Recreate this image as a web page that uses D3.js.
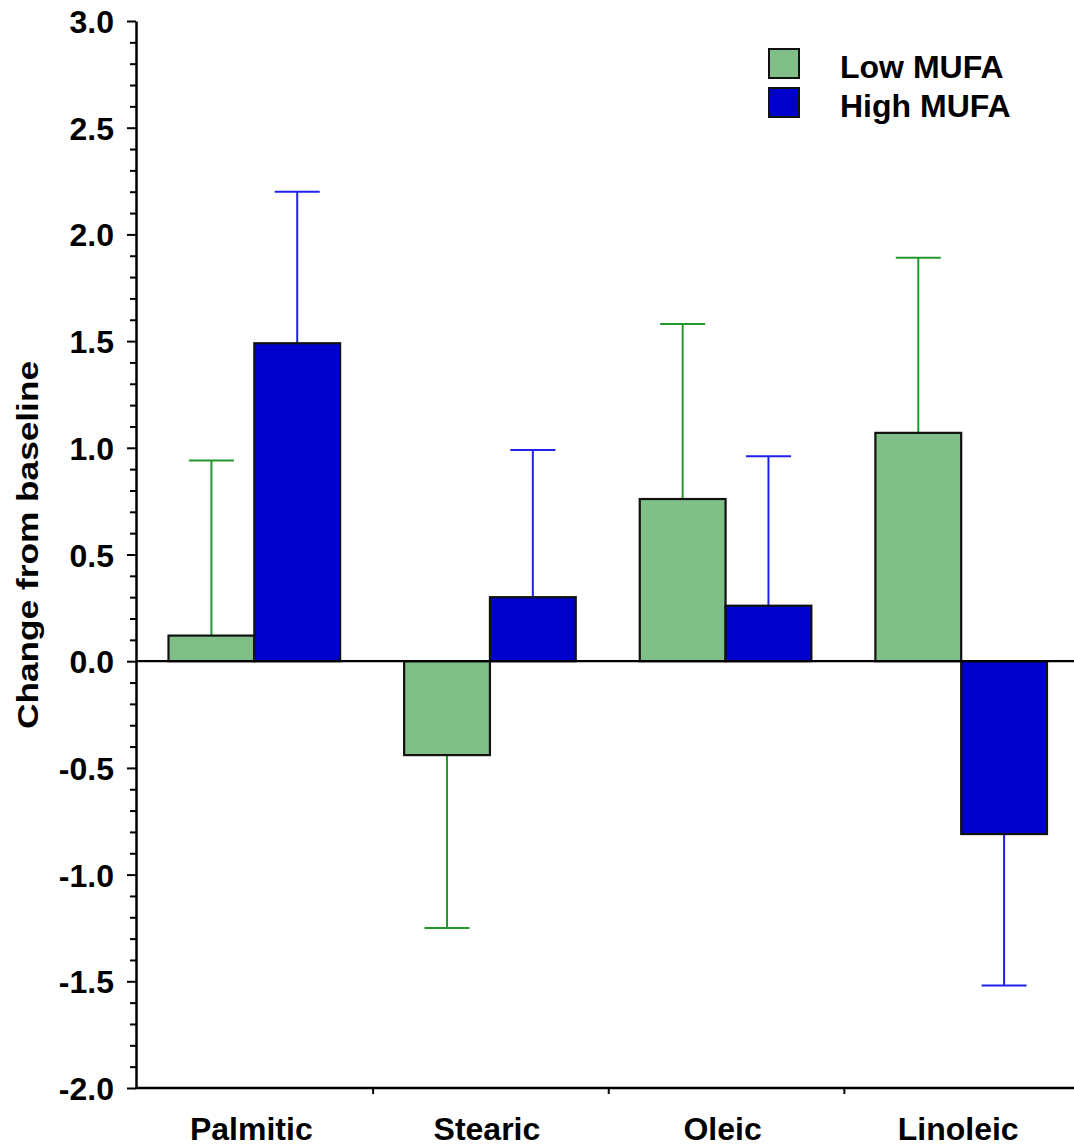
<!DOCTYPE html>
<html>
<head>
<meta charset="utf-8">
<script src="https://cdn.jsdelivr.net/npm/d3@7"></script>
<style>
  html, body { margin: 0; padding: 0; background: #fff; }
  svg { display: block; }
  text { font-family: "Liberation Sans", Arial, Helvetica, sans-serif; font-weight: bold; fill: #000; }
</style>
</head>
<body>
<svg id="chart" width="1074" height="1148"></svg>
<script>
// Fatty acid change from baseline by diet group
const categories = ["Palmitic", "Stearic", "Oleic", "Linoleic"];
const seriesNames = ["Low MUFA", "High MUFA"];
const lowMeans  = [0.12, -0.44, 0.76, 1.07];
const lowErrEnd = [0.94, -1.25, 1.58, 1.89];
const highMeans  = [1.49, 0.30, 0.26, -0.81];
const highErrEnd = [2.20, 0.99, 0.96, -1.52];
const yTicks = [3.0, 2.5, 2.0, 1.5, 1.0, 0.5, 0.0, -0.5, -1.0, -1.5, -2.0];

const fills = ["#80c088", "#0000cc"];
const errColors = ["#20982c", "#2020f0"];

const svg = d3.select("#chart");
const W = 1074;
const plotLeft = 136, plotTop = 21, plotBottom = 1088, plotRight = 1080;

// plain hyphen for negative numbers
const fmt = d3.formatLocale({ decimal: ".", thousands: ",", grouping: [3], currency: ["", ""], minus: "-" }).format(".1f");

const y = d3.scaleLinear().domain([-2, 3]).range([plotBottom, plotTop]);
const x0 = d3.scaleBand().domain(categories).range([plotLeft + 1.5, plotRight]).paddingInner(0).paddingOuter(0);
const x1 = d3.scaleBand().domain(seriesNames).range([32, x0.bandwidth() - 32]).padding(0);

const rows = categories.map((c, i) => ({
  cat: c,
  vals: [
    { s: seriesNames[0], v: lowMeans[i], e: lowErrEnd[i], k: 0 },
    { s: seriesNames[1], v: highMeans[i], e: highErrEnd[i], k: 1 }
  ]
}));

// Error bars (drawn under bars so they start at the bar edge)
const groups = svg.selectAll("g.cat").data(rows).join("g")
  .attr("class", "cat")
  .attr("transform", d => `translate(${x0(d.cat) - 1},0)`);

groups.selectAll("g.err").data(d => d.vals).join("g").attr("class", "err")
  .each(function(d) {
    const g = d3.select(this);
    const cx = x1(d.s) + x1.bandwidth() / 2;
    g.append("line").attr("x1", cx).attr("x2", cx)
      .attr("y1", y(d.v)).attr("y2", y(d.e))
      .attr("stroke", errColors[d.k]).attr("stroke-width", 2);
    g.append("line").attr("x1", cx - 22.5).attr("x2", cx + 22.5)
      .attr("y1", y(d.e)).attr("y2", y(d.e))
      .attr("stroke", errColors[d.k]).attr("stroke-width", 2);
  });

groups.selectAll("rect").data(d => d.vals).join("rect")
  .attr("x", d => x1(d.s))
  .attr("width", x1.bandwidth())
  .attr("y", d => y(Math.max(0, d.v)))
  .attr("height", d => Math.abs(y(d.v) - y(0)))
  .attr("fill", d => fills[d.k])
  .attr("stroke", "#111")
  .attr("stroke-width", 2.2);

// Zero line
svg.append("line")
  .attr("x1", plotLeft).attr("x2", W)
  .attr("y1", y(0)).attr("y2", y(0))
  .attr("stroke", "#000").attr("stroke-width", 2.2);

// Y axis with minor ticks
const minor = d3.range(-20, 31).map(v => v / 10).filter(v => Math.abs(v * 2 - Math.round(v * 2)) > 1e-6);
const yMinor = svg.append("g").attr("transform", `translate(${plotLeft},0)`)
  .call(d3.axisLeft(y).tickValues(minor).tickSize(6).tickFormat(""));
yMinor.select(".domain").remove();
yMinor.selectAll("line").attr("stroke", "#000").attr("stroke-width", 2);

const yAxis = svg.append("g").attr("transform", `translate(${plotLeft},0)`)
  .call(d3.axisLeft(y).tickValues(yTicks).tickSize(9).tickSizeOuter(0).tickPadding(13).tickFormat(fmt));
yAxis.select(".domain").attr("stroke", "#000").attr("stroke-width", 2.5);
yAxis.selectAll("line").attr("stroke", "#000").attr("stroke-width", 2);
yAxis.selectAll("text")
  .style("font-size", "32px")
  .style("font-family", "'Liberation Sans', Arial, sans-serif")
  .style("font-weight", "bold")
  .attr("dy", "0.36em");

// X axis at the bottom with category separators
const xAxis = svg.append("g").attr("transform", `translate(0,${plotBottom})`);
xAxis.append("line").attr("x1", plotLeft - 1).attr("x2", W)
  .attr("y1", 0).attr("y2", 0).attr("stroke", "#000").attr("stroke-width", 2.5);
xAxis.selectAll("line.sep").data(categories.slice(1)).join("line")
  .attr("class", "sep")
  .attr("x1", d => x0(d)).attr("x2", d => x0(d))
  .attr("y1", 0).attr("y2", 6)
  .attr("stroke", "#000").attr("stroke-width", 2);
xAxis.selectAll("text.cat").data(categories).join("text")
  .attr("class", "cat")
  .attr("x", d => x0(d) + x0.bandwidth() / 2 - 4)
  .attr("y", 52)
  .attr("text-anchor", "middle")
  .style("font-size", "32px")
  .text(d => d);

// Y axis title
svg.append("text")
  .attr("transform", "translate(38,545) rotate(-90)")
  .attr("text-anchor", "middle")
  .attr("textLength", 368)
  .attr("lengthAdjust", "spacingAndGlyphs")
  .style("font-size", "30px")
  .text("Change from baseline");

// Legend
const legend = svg.append("g").attr("transform", "translate(768,48)");
seriesNames.forEach((name, i) => {
  const g = legend.append("g").attr("transform", `translate(0,${i * 39})`);
  g.append("rect").attr("x", 1).attr("y", 1).attr("width", 30).attr("height", 29)
    .attr("fill", fills[i]).attr("stroke", "#111").attr("stroke-width", 2);
  g.append("text").attr("x", 72).attr("y", 18).attr("dy", "0.36em")
    .style("font-size", "32px").text(name);
});
</script>
</body>
</html>
